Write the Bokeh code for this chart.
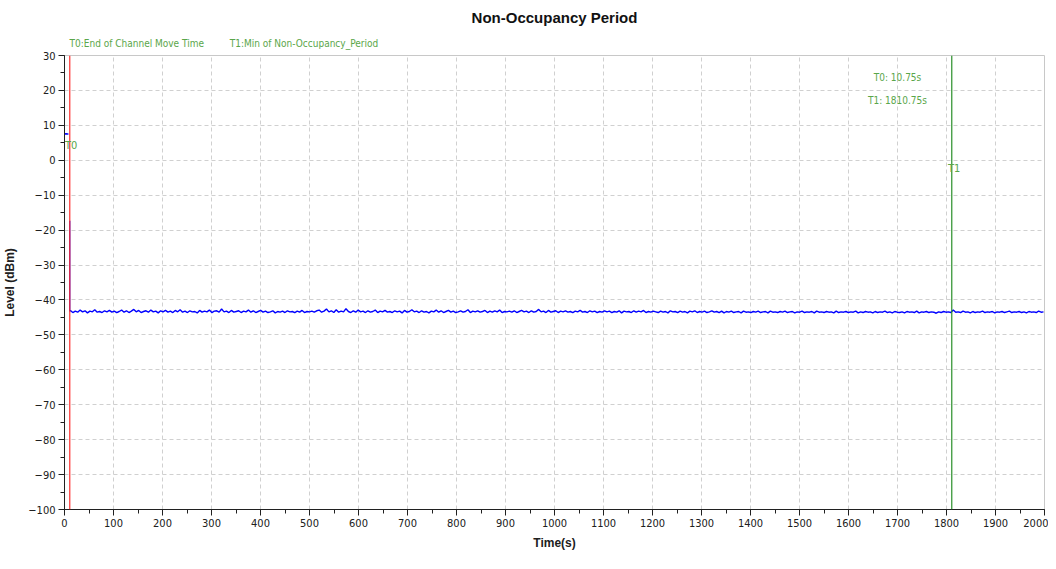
import numpy as np
from bokeh.plotting import figure
from bokeh.models import Span, Label, Range1d, SingleIntervalTicker, Title
from bokeh.embed import file_html
from bokeh.resources import INLINE

# ---- data ----
title = "Non-Occupancy Period"
pre_time = [0, 3, 6, 8]
pre_level = [7.5, 7.6, 7.5, 7.5]
spike_time = 10.6
spike_level = -17.3
noise_level = [
    -43.0, -43.6, -43.2, -43.5, -42.9, -43.4, -43.1, -43.7, -43.2, -43.4, -42.8, -43.5, -43.3, -43.6, -43.1, -43.4, -43.0, -43.5, -43.2, -43.6,
    -43.3, -42.9, -43.5, -43.1, -43.6, -43.2, -42.7, -43.4, -43.0, -43.6, -43.3, -43.1, -43.5, -42.9, -43.4, -43.2, -43.7, -43.1, -43.4, -43.0,
    -43.5, -43.2, -43.6, -43.0, -43.4, -42.8, -43.5, -43.2, -43.6, -43.1, -43.4, -43.3, -43.7, -43.0, -43.5, -43.2, -43.4, -42.9, -43.6, -43.2,
    -43.1, -43.5, -42.6, -43.4, -43.2, -43.6, -43.0, -43.5, -43.3, -43.1, -43.6, -43.2, -43.4, -42.9, -43.5, -43.1, -43.6, -43.3, -43.0, -43.5,
    -43.2, -43.6, -43.4, -43.1, -43.7, -43.3, -43.5, -43.2, -43.6, -43.1, -43.4, -43.3, -43.6, -43.2, -43.5, -43.0, -43.6, -43.3, -43.4, -43.2,
    -43.5, -43.1, -42.9, -43.5, -43.2, -42.6, -43.4, -43.1, -43.6, -42.8, -43.5, -43.2, -43.4, -42.5, -43.3, -43.6, -43.1, -43.5, -42.9, -43.4,
    -43.2, -43.6, -43.1, -43.5, -43.3, -42.9, -43.6, -43.2, -43.4, -43.0, -43.5, -43.3, -43.6, -43.1, -43.4, -43.2, -43.7, -43.0, -43.5, -43.3,
    -42.8, -43.4, -43.2, -43.6, -43.1, -43.5, -43.3, -43.7, -43.2, -43.4, -42.9, -43.5, -43.1, -43.6, -43.3, -43.0, -43.5, -43.2, -43.6, -43.4,
    -43.1, -43.5, -43.3, -42.8, -43.6, -43.2, -43.4, -43.1, -43.5, -43.3, -43.0, -43.6, -43.2, -43.5, -43.1, -43.4, -42.9, -43.6, -43.3, -43.4,
    -43.2, -43.5, -43.1, -43.6, -43.3, -43.0, -43.4, -43.2, -43.6, -43.1, -43.5, -43.3, -42.7, -43.4, -43.2, -43.6, -43.0, -43.5, -43.3, -43.1,
    -43.6, -43.2, -43.4, -43.1, -43.5, -43.3, -43.6, -43.2, -43.4, -43.0, -43.5, -43.3, -43.6, -43.1, -43.4, -43.2, -43.6, -43.3, -43.5, -43.1,
    -43.4, -43.2, -43.6, -43.3, -43.5, -43.1, -43.7, -43.2, -43.4, -43.3, -43.6, -43.1, -43.5, -43.2, -43.4, -43.0, -43.6, -43.3, -43.5, -43.2,
    -43.4, -43.6, -43.2, -43.5, -43.3, -43.7, -43.1, -43.4, -43.3, -43.6, -43.2, -43.5, -43.3, -43.7, -43.2, -43.4, -43.1, -43.6, -43.3, -43.5,
    -43.2, -43.6, -43.4, -43.1, -43.5, -43.3, -43.6, -43.2, -43.7, -43.3, -43.5, -43.2, -43.6, -43.4, -43.3, -43.7, -43.2, -43.5, -43.4, -43.6,
    -43.3, -43.5, -43.2, -43.6, -43.4, -43.3, -43.7, -43.2, -43.5, -43.4, -43.6, -43.3, -43.5, -43.2, -43.6, -43.4, -43.3, -43.7, -43.4, -43.5,
    -43.2, -43.6, -43.4, -43.5, -43.3, -43.7, -43.2, -43.5, -43.4, -43.6, -43.3, -43.5, -43.4, -43.7, -43.2, -43.6, -43.4, -43.5, -43.3, -43.6,
    -43.4, -43.5, -43.2, -43.7, -43.4, -43.6, -43.3, -43.5, -43.4, -43.7, -43.3, -43.6, -43.4, -43.5, -43.2, -43.6, -43.4, -43.7, -43.3, -43.5,
    -43.6, -43.4, -43.7, -43.3, -43.5, -43.4, -43.6, -43.2, -43.7, -43.4, -43.5, -43.3, -43.6, -43.4, -43.5, -43.8, -43.4, -43.6, -43.3, -43.5,
    -43.4, -43.6, -42.9, -43.5, -43.4, -43.6, -43.2, -43.5, -43.4, -43.7, -43.3, -43.6, -43.4, -43.5, -43.2, -43.6, -43.4, -43.5, -43.3, -43.7,
    -43.4, -43.5, -43.3, -43.6, -43.4, -43.2, -43.6, -43.4, -43.5, -43.3, -43.6, -43.4, -43.7, -43.3, -43.5, -43.4, -43.6, -43.2, -43.5, -43.4,
]
t0_time = 10.75
t1_time = 1810.75
marker_labels = ["T0:End of Channel Move Time", "T1:Min of Non-Occupancy_Period"]
info_labels = ["T0: 10.75s", "T1: 1810.75s"]

noise_time = np.linspace(12, 1998, len(noise_level))
main_time = np.concatenate([[spike_time, spike_time], noise_time])
main_level = np.concatenate([[spike_level, -43.2], noise_level])

FONT = "'DejaVu Sans Condensed', 'Liberation Sans Narrow', 'Liberation Sans'"
GREEN_TXT = "#5aa64a"

p = figure(width=1048, height=561, output_backend="svg", toolbar_location=None,
           x_range=Range1d(0, 2000), y_range=Range1d(-100, 30),
           min_border_left=63, min_border_right=4, min_border_top=55, min_border_bottom=52)

# main title (outermost)
p.title.text = title
p.title.align = "center"
p.title.text_font = "Liberation Sans"
p.title.text_font_size = "15px"
p.title.text_font_style = "bold"
p.title.text_color = "#111111"
p.title.offset = 0
p.title.standoff = 6

# marker legend line (closest to the frame)
gap = "\u00a0" * 9
legend_title = Title(text=marker_labels[0] + gap + marker_labels[1], align="left", offset=5,
                     text_font=FONT, text_font_size="10px", text_font_style="normal",
                     text_color=GREEN_TXT, standoff=14)
p.add_layout(legend_title, "above")

p.outline_line_color = "#c8c8c8"
p.background_fill_color = "white"
p.xgrid.grid_line_color = "#d0d0d0"
p.ygrid.grid_line_color = "#d0d0d0"
p.xgrid.grid_line_dash = "4 3"
p.ygrid.grid_line_dash = "4 3"

p.xaxis.ticker = SingleIntervalTicker(interval=100, num_minor_ticks=2)
p.yaxis.ticker = SingleIntervalTicker(interval=10, num_minor_ticks=2)
for ax in (p.xaxis[0], p.yaxis[0]):
    ax.axis_line_color = "#202020"
    ax.major_tick_line_color = "#202020"
    ax.minor_tick_line_color = "#202020"
    ax.major_tick_out = 6
    ax.major_tick_in = 0
    ax.minor_tick_out = 4
    ax.minor_tick_in = 0
    ax.major_label_standoff = 3
    ax.major_label_text_font = FONT
    ax.major_label_text_font_size = "11px"
    ax.major_label_text_color = "#202020"
    ax.axis_label_text_font = "Liberation Sans"
    ax.axis_label_text_font_style = "bold"
    ax.axis_label_text_font_size = "12px"
    ax.axis_label_text_color = "#202020"

p.xaxis.axis_label = "Time(s)"
p.yaxis.axis_label = "Level (dBm)"
p.xaxis.axis_label_standoff = 6
p.yaxis.axis_label_standoff = 8

p.line(pre_time, pre_level, line_color="#0000ff", line_width=1.5)
p.line(main_time, main_level, line_color="#0000ff", line_width=1.4)

p.add_layout(Span(location=t0_time, dimension="height", line_color="#ff3030", line_width=1.2))
p.add_layout(Span(location=t1_time, dimension="height", line_color="#2a8f2a", line_width=1.2))

p.add_layout(Label(x=1, y=4.3, text="T0", text_font=FONT, text_font_size="11px",
                   text_color=GREEN_TXT, text_baseline="middle"))
p.add_layout(Label(x=1803, y=-2.4, text="T1", text_font=FONT, text_font_size="11px",
                   text_color=GREEN_TXT, text_baseline="middle"))
p.add_layout(Label(x=1700, y=23.7, text=info_labels[0], text_font=FONT, text_font_size="10px",
                   text_color=GREEN_TXT, text_align="center", text_baseline="middle"))
p.add_layout(Label(x=1700, y=17.1, text=info_labels[1], text_font=FONT, text_font_size="10px",
                   text_color=GREEN_TXT, text_align="center", text_baseline="middle"))

open("out.html", "w").write(file_html(p, INLINE))
